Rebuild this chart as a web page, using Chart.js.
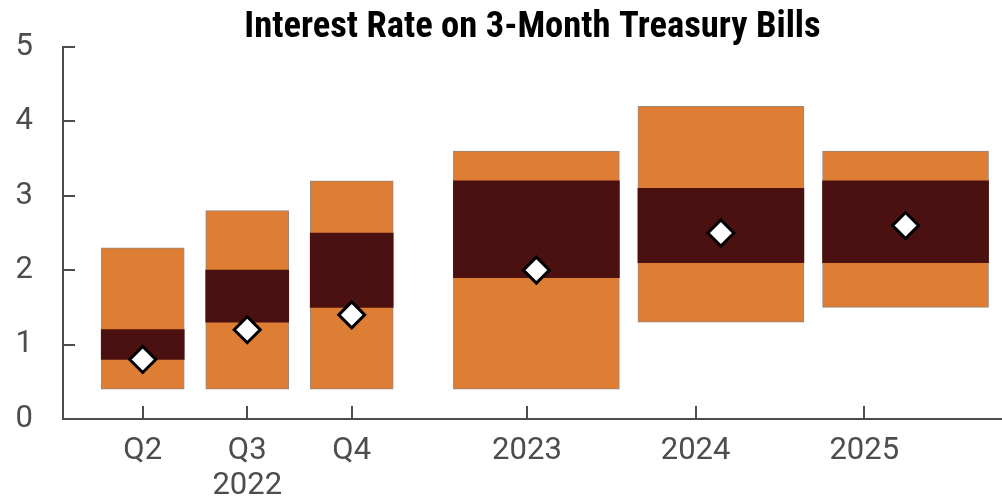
<!DOCTYPE html>
<html>
<head>
<meta charset="utf-8">
<script src="https://cdn.jsdelivr.net/npm/chart.js@4/dist/chart.umd.min.js"></script>
<style>
  html, body { margin: 0; padding: 0; background: #fff; overflow: hidden; }
  canvas { display: block; }
</style>
</head>
<body>
<canvas id="chart" width="1002" height="500"></canvas>
<script>
// forecast periods and ranges (percent)
const periods = ["Q2", "Q3", "Q4", "2023", "2024", "2025"];
const tickLabels = ["Q2", ["Q3", "2022"], "Q4", "2023", "2024", "2025"];
const rangeLow = [0.4, 0.4, 0.4, 0.4, 1.3, 1.5];
const rangeHigh = [2.3, 2.8, 3.2, 3.6, 4.2, 3.6];
const centralLow = [0.8, 1.3, 1.5, 1.9, 2.1, 2.1];
const centralHigh = [1.2, 2.0, 2.5, 3.2, 3.1, 3.2];
const median = [0.8, 1.2, 1.4, 2.0, 2.5, 2.6];

// layout on the x axis: quarters are narrow, years are wide
const barCenters = [1, 2, 3, 4.767, 6.533, 8.3];
const tickCenters = [1, 2, 3, 4.677, 6.291, 7.905];
const groups = [
  { idx: [0, 1, 2], width: 83 },
  { idx: [3, 4, 5], width: 166 },
];

const ORANGE = "#de7d34";
const DARK = "#4b1110";
const AXIS = "#4d4d4d";
const tickFont = { family: "Roboto, 'Liberation Sans', sans-serif", size: 31 };

const datasets = [];
groups.forEach((g) => {
  datasets.push({
    type: "bar",
    label: "central",
    data: g.idx.map((i) => ({ x: barCenters[i], y: [centralLow[i], centralHigh[i]] })),
    backgroundColor: DARK,
    borderWidth: 0,
    barThickness: g.width,
    grouped: false,
    order: 1,
  });
  datasets.push({
    type: "bar",
    label: "range",
    data: g.idx.map((i) => ({ x: barCenters[i], y: [rangeLow[i], rangeHigh[i]] })),
    backgroundColor: ORANGE,
    borderColor: "rgba(110,85,70,0.7)",
    borderWidth: 1,
    borderSkipped: false,
    barThickness: g.width,
    grouped: false,
    order: 2,
  });
});
datasets.push({
  type: "scatter",
  label: "median",
  data: periods.map((p, i) => ({ x: barCenters[i], y: median[i] })),
  pointStyle: "rectRot",
  pointRadius: 13,
  pointHoverRadius: 13,
  backgroundColor: "#ffffff",
  borderColor: "#000000",
  borderWidth: 3,
  order: 0,
});

new Chart(document.getElementById("chart"), {
  type: "bar",
  data: { datasets: datasets },
  options: {
    responsive: false,
    animation: false,
    layout: { padding: 0, autoPadding: false },
    plugins: {
      legend: { display: false },
      tooltip: { enabled: false },
      title: {
        display: true,
        text: "Interest Rate on 3-Month Treasury Bills",
        fullSize: false,
        color: "#000",
        font: { family: "'Liberation Sans Narrow', 'Roboto Condensed', Roboto, sans-serif", size: 36.6, weight: "bold" },
        padding: { top: 6, bottom: -3 },
      },
    },
    scales: {
      x: {
        type: "linear",
        offset: false,
        min: 0.237,
        max: 9.223,
        afterBuildTicks: (scale) => {
          scale.ticks = tickCenters.map((v) => ({ value: v }));
        },
        afterFit: (scale) => {
          scale.height = 81;
          scale.paddingLeft = 0;
          scale.paddingRight = 0;
        },
        ticks: {
          autoSkip: false,
          maxRotation: 0,
          padding: 28,
          color: AXIS,
          font: { ...tickFont, lineHeight: 1.13 },
          callback: (v, i) => tickLabels[i],
        },
        grid: { offset: false, drawOnChartArea: false, tickLength: -13, color: AXIS, lineWidth: 2 },
        border: { display: true, color: AXIS, width: 2 },
      },
      y: {
        min: 0,
        max: 5,
        afterFit: (scale) => {
          scale.width = 63;
          scale.paddingTop = 0;
          scale.paddingBottom = 0;
        },
        ticks: { stepSize: 1, padding: 42, color: AXIS, font: tickFont },
        grid: { drawOnChartArea: false, tickLength: -12, color: AXIS, lineWidth: 2 },
        border: { display: true, color: AXIS, width: 2 },
      },
    },
  },
});
</script>
</body>
</html>
